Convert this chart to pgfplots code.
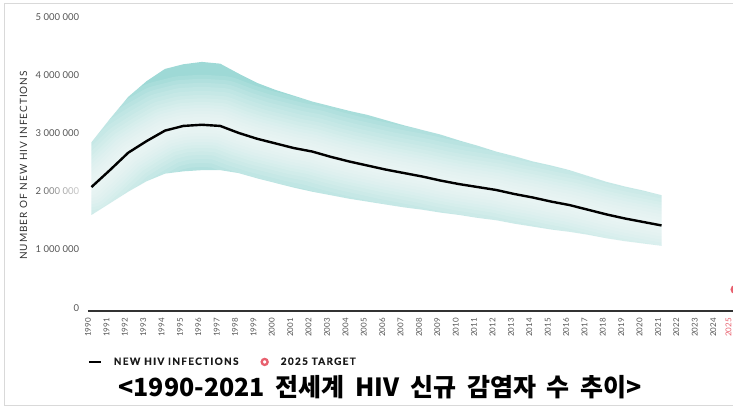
\documentclass[border=0pt]{standalone}
\usepackage{pgfplots}
\pgfplotsset{compat=1.18}
\usepackage{pgfplotstable}
\usepgfplotslibrary{fillbetween}
\usepackage{graphicx}
\usepackage{fontspec}
\setmainfont{Lato}
\newfontfamily\kr{Noto Sans CJK KR}
\definecolor{band}{RGB}{158,217,214}
\definecolor{target}{RGB}{232,96,110}
\definecolor{ticktxt}{RGB}{85,85,85}
\definecolor{axisln}{RGB}{50,50,50}

\pgfplotstableread{
year mid hi lo
1990 2130000 2900000 1650000
1991 2420000 3300000 1850000
1992 2720000 3680000 2050000
1993 2920000 3950000 2230000
1994 3100000 4160000 2360000
1995 3180000 4240000 2400000
1996 3200000 4280000 2420000
1997 3180000 4250000 2420000
1998 3060000 4080000 2370000
1999 2960000 3920000 2280000
2000 2880000 3800000 2200000
2001 2800000 3700000 2120000
2002 2740000 3600000 2050000
2003 2650000 3520000 1990000
2004 2570000 3440000 1930000
2005 2500000 3370000 1880000
2006 2430000 3280000 1830000
2007 2370000 3190000 1780000
2008 2310000 3110000 1740000
2009 2240000 3030000 1690000
2010 2180000 2930000 1650000
2011 2130000 2840000 1600000
2012 2080000 2740000 1560000
2013 2010000 2660000 1500000
2014 1950000 2570000 1450000
2015 1880000 2500000 1400000
2016 1820000 2420000 1360000
2017 1740000 2320000 1310000
2018 1660000 2220000 1250000
2019 1590000 2140000 1200000
2020 1530000 2070000 1160000
2021 1470000 1990000 1120000
}\datatable

\pgfplotsset{glow/.style={white, opacity=0.11, line width=#1, line join=round, line cap=round, forget plot}}

\begin{document}
\begin{tikzpicture}
\draw[black!15, line width=1pt] (4pt,3pt) -- (4pt,404pt) -- (733pt,404pt);
\draw[black!15, line width=1pt] (4pt,3pt) -- (733pt,3pt);
\begin{axis}[
  at={(87.8pt,97pt)}, anchor=south west,
  scale only axis, width=647.3pt, height=291pt,
  xmin=1989.8, xmax=2025, ymin=0, ymax=5000000,
  clip=false, scaled y ticks=false,
  axis x line*=bottom, axis y line*=left,
  x axis line style={-, draw=axisln, line width=1.6pt},
  y axis line style={draw=none},
  xtick={1990,...,2025},
  xticklabels={1990,1991,1992,1993,1994,1995,1996,1997,1998,1999,2000,2001,2002,2003,2004,2005,2006,2007,2008,2009,2010,2011,2012,2013,2014,2015,2016,2017,2018,2019,2020,2021,2022,2023,2024,{\raisebox{3pt}[\height][\depth]{\textcolor{target}{2025}}}},
  ytick={0,1000000,2000000,3000000,4000000,5000000},
  yticklabels={0,1 000 000,2 000 000,3 000 000,4 000 000,5 000 000},
  xtick style={draw=none}, ytick style={draw=none},
  xticklabel style={xshift=-3.5pt, rotate=90, anchor=east, inner sep=0pt, font=\fontsize{8}{9}\selectfont, text=ticktxt},
  xticklabel shift=7pt,
  yticklabel style={anchor=base east, inner sep=0pt, font=\fontsize{9.5}{10}\selectfont, text=ticktxt},
  yticklabel shift=8.5pt,
  ylabel={NUMBER OF NEW HIV INFECTIONS},
  ylabel style={at={(axis description cs:-0.0993,0.5)}, anchor=center, font=\fontsize{10}{11}\selectfont\addfontfeature{LetterSpace=10}, text=axisln},
  legend columns=2,
  legend style={at={(axis description cs:0,-0.175)}, anchor=west, draw=none, fill=none, inner sep=0pt,
    font=\bfseries\fontsize{10}{11}\selectfont\addfontfeature{LetterSpace=13,FakeBold=0.6}, text=black!90,
    /tikz/every odd column/.append style={column sep=10pt},
    /tikz/every even column/.append style={column sep=20pt},
    nodes={inner sep=2pt}},
]
\addplot[name path=hi, draw=none, forget plot] table[x=year, y=hi]{\datatable};
\addplot[name path=lo, draw=none, forget plot] table[x=year, y=lo]{\datatable};
\addplot[band, forget plot] fill between[of=hi and lo];
\addplot[glow=100pt] table[x=year, y=mid]{\datatable};
\addplot[glow=92pt] table[x=year, y=mid]{\datatable};
\addplot[glow=84pt] table[x=year, y=mid]{\datatable};
\addplot[glow=76pt] table[x=year, y=mid]{\datatable};
\addplot[glow=68pt] table[x=year, y=mid]{\datatable};
\addplot[glow=60pt] table[x=year, y=mid]{\datatable};
\addplot[glow=53pt] table[x=year, y=mid]{\datatable};
\addplot[glow=46pt] table[x=year, y=mid]{\datatable};
\addplot[glow=40pt] table[x=year, y=mid]{\datatable};
\addplot[glow=34pt] table[x=year, y=mid]{\datatable};
\addplot[glow=28pt] table[x=year, y=mid]{\datatable};
\addplot[glow=22pt] table[x=year, y=mid]{\datatable};
\addplot[glow=16pt] table[x=year, y=mid]{\datatable};
\addplot[glow=10pt] table[x=year, y=mid]{\datatable};
\addplot[black, line width=2.4pt, line join=round,
  legend image code/.code={\draw[black, line width=1.8pt] (0pt,0pt) -- (12pt,0pt);}] table[x=year, y=mid]{\datatable};
\addlegendentry{NEW HIV INFECTIONS}
\addplot[only marks, mark=o, mark size=3.4pt, draw=target, line width=2.3pt,
  legend image code/.code={\draw[target, line width=2.3pt] (4pt,0pt) circle (3pt);}] coordinates {(2025,370000)};
\addlegendentry{2025 TARGET}
\end{axis}
\node[font=\kr\bfseries\fontsize{25}{28}\selectfont, inner sep=0pt] at (380pt,21pt) {<1990-2021\hspace{5pt} 전세계\hspace{5pt} HIV\hspace{5pt} 신규\hspace{5pt} 감염자\hspace{5pt} 수\hspace{5pt} 추이>};
\pgfresetboundingbox
\useasboundingbox (0pt,0pt) rectangle (733pt,408pt);
\end{tikzpicture}
\end{document}
